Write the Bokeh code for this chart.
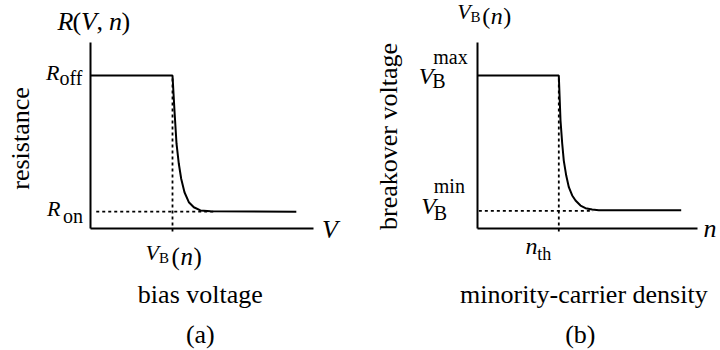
from bokeh.plotting import figure
from bokeh.models import Range1d, LinearAxis, FixedTicker
from bokeh.layouts import row
from bokeh.core.properties import value
from bokeh.embed import file_html
from bokeh.resources import INLINE

FONT = "Liberation Serif"

# ---------------- data (schematic units) ----------------
# panel (a): resistance vs bias voltage
bias_voltage = [0.0, 1.0, 1.024, 1.049, 1.077, 1.106, 1.146, 1.199, 1.260, 1.341, 1.463, 2.51]
resistance = [1.0, 1.0, 0.771, 0.554, 0.423, 0.325, 0.237, 0.172, 0.139, 0.118, 0.112, 0.110]
R_OFF = 1.0
R_ON = 0.11
V_BREAK = 1.0
V_AXIS_END = 2.72
R_AXIS_TOP = 1.216

# panel (b): breakover voltage vs minority-carrier density
carrier_density = [0.0, 1.0, 1.021, 1.042, 1.061, 1.091, 1.123, 1.164, 1.205, 1.266, 1.327, 1.409, 1.490, 2.50]
breakover = [1.0, 1.0, 0.706, 0.554, 0.444, 0.346, 0.270, 0.216, 0.183, 0.150, 0.133, 0.124, 0.120, 0.120]
VB_MAX = 1.0
VB_MIN = 0.115
N_TH = 1.0
N_AXIS_END = 2.70
VB_AXIS_TOP = 1.216

PANEL_W, PANEL_H = 360, 350
BASELINE_FIX = -8  # pixels, compensates the renderer's alphabetic baseline
SCALE = {}


def make_panel(ox, oy, ux, uy):
    """ox, oy: pixel position of the data origin; ux, uy: pixels per unit."""
    p = figure(width=PANEL_W, height=PANEL_H,
               x_range=Range1d(-ox / ux, (PANEL_W - ox) / ux),
               y_range=Range1d(-(PANEL_H - oy) / uy, oy / uy),
               x_axis_type=None, y_axis_type=None,
               toolbar_location=None, output_backend="svg",
               min_border=0, outline_line_color=None,
               background_fill_color="white", border_fill_color="white")
    SCALE[id(p)] = (ux, uy)
    return p


def add_axes(p, xend, ytop):
    for loc, bounds in (("below", (0, xend)), ("left", (0, ytop))):
        ax = LinearAxis(fixed_location=0, bounds=bounds,
                        ticker=FixedTicker(ticks=[]),
                        major_tick_line_color=None, minor_tick_line_color=None,
                        major_label_text_font_size="0px",
                        axis_line_width=2, axis_line_color="black")
        p.add_layout(ax, loc)


def put(p, x, y, s, dx=0, dy=0, size=26, style="normal", align="left",
        baseline="alphabetic", angle=0.0):
    # dx, dy are pixel offsets from the data anchor (dy positive = down)
    ux, uy = SCALE[id(p)]
    if baseline == "alphabetic":
        dy = dy + BASELINE_FIX
    p.text(x=[x + dx / ux], y=[y - dy / uy], text=[s],
           text_font=value(FONT), text_font_size=f"{size}px",
           text_font_style=style, text_align=align, text_baseline=baseline,
           angle=angle, text_color="black")


def pieces(p, x, y, items, dy, size):
    # items: list of (text, dx, style)
    for s, dx, st in items:
        put(p, x, y, s, dx=dx, dy=dy, size=size, style=st)


DASH = dict(line_dash="3 3", line_width=1.8, line_color="black")

# ---------------- panel (a) ----------------
pa = make_panel(90, 228, 82, 153)
add_axes(pa, V_AXIS_END, R_AXIS_TOP)
pa.line([V_BREAK, V_BREAK], [-0.02, R_OFF], **DASH)
pa.line([0.07, 1.5], [R_ON, R_ON], **DASH)
pa.line(bias_voltage, resistance, line_width=2, line_color="black")

pieces(pa, 0, R_AXIS_TOP, [("R", -33, "italic"), ("(", -18, "normal"), ("V", -9.5, "italic"),
                           (",", 6, "normal"), ("n", 18.5, "italic"), (")", 31, "normal")], -13, 26)
put(pa, 0, R_OFF, "R", dx=-31, dy=5, size=22, style="italic", align="right")
put(pa, 0, R_OFF, "off", dx=-8, dy=10, size=20, align="right")
put(pa, 0, R_ON, "R", dx=-30, dy=5, size=22, style="italic", align="right")
put(pa, 0, R_ON, "on", dx=-7.5, dy=12, size=20, align="right")
put(pa, 0, 0, "resistance", dx=-70, dy=-90, size=26, align="center",
    baseline="middle", angle=1.5707963)
put(pa, V_BREAK, 0, "V", dx=-27, dy=32, size=22, style="italic")
put(pa, V_BREAK, 0, "B", dx=-13.5, dy=37, size=15)
pieces(pa, V_BREAK, 0, [("(", -1, "normal"), ("n", 8, "italic"), (")", 21, "normal")], 36, 25)
put(pa, V_AXIS_END, 0, "V", dx=8.5, dy=9, size=26, style="italic")
put(pa, V_AXIS_END / 2, 0, "bias voltage", dx=-1.7, dy=74, size=26, align="center")
put(pa, V_AXIS_END / 2, 0, "(a)", dx=-1.7, dy=114, size=26, align="center")

# ---------------- panel (b) ----------------
pb = make_panel(116.7, 228, 81.6, 153)
add_axes(pb, N_AXIS_END, VB_AXIS_TOP)
pb.line([N_TH, N_TH], [-0.02, VB_MAX], **DASH)
pb.line([0.02, 1.42], [VB_MIN, VB_MIN], **DASH)
pb.line(carrier_density, breakover, line_width=2, line_color="black")

put(pb, 0, VB_AXIS_TOP, "V", dx=-20, dy=-22.5, size=22, style="italic")
put(pb, 0, VB_AXIS_TOP, "B", dx=-6.7, dy=-17, size=15)
pieces(pb, 0, VB_AXIS_TOP, [("(", 5, "normal"), ("n", 13.5, "italic"), (")", 26, "normal")], -18, 24)
put(pb, 0, VB_MAX, "V", dx=-58.4, dy=8.3, size=24, style="italic")
put(pb, 0, VB_MAX, "B", dx=-45, dy=13.3, size=20)
put(pb, 0, VB_MAX, "max", dx=-44, dy=-11, size=20)
put(pb, 0, VB_MIN, "V", dx=-56, dy=3.3, size=24, style="italic")
put(pb, 0, VB_MIN, "B", dx=-43.4, dy=10, size=20)
put(pb, 0, VB_MIN, "min", dx=-43.4, dy=-16.7, size=20)
put(pb, 0, 0, "breakover voltage", dx=-88.7, dy=-92, size=26, align="center",
    baseline="middle", angle=1.5707963)
put(pb, N_TH, 0, "n", dx=-33.3, dy=25.3, size=24, style="italic")
put(pb, N_TH, 0, "th", dx=-21.6, dy=33.7, size=18)
put(pb, N_AXIS_END, 0, "n", dx=6, dy=8, size=26, style="italic")
put(pb, N_AXIS_END / 2, 0, "minority-carrier density", dx=-3.5, dy=74, size=26, align="center")
put(pb, N_AXIS_END / 2, 0, "(b)", dx=-7, dy=114, size=26, align="center")

layout = row(pa, pb)
open("out.html", "w").write(file_html(layout, INLINE))
